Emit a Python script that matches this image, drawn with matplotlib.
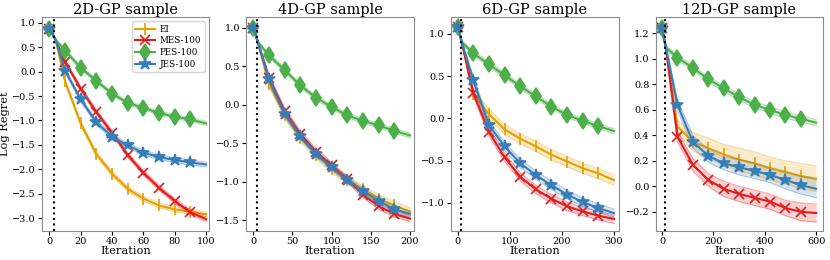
import numpy as np
import matplotlib.pyplot as plt

plt.rcParams['font.family'] = 'DejaVu Serif'

titles = ['2D-GP sample', '4D-GP sample', '6D-GP sample', '12D-GP sample']
methods = ['EI', 'MES-100', 'PES-100', 'JES-100']
init_iters = [3, 5, 7, 13]

# 2D
x_2d = [0, 4, 10, 20, 30, 40, 50, 60, 70, 80, 90, 100]
ei_2d = [0.88, 0.65, -0.20, -1.06, -1.69, -2.09, -2.40, -2.60, -2.74, -2.82, -2.87, -2.92]
mes_2d = [0.88, 0.65, 0.20, -0.35, -0.83, -1.25, -1.71, -2.07, -2.38, -2.65, -2.88, -3.02]
pes_2d = [0.88, 0.65, 0.43, 0.08, -0.19, -0.45, -0.64, -0.74, -0.85, -0.92, -0.98, -1.06]
jes_2d = [0.88, 0.65, 0.02, -0.57, -1.04, -1.33, -1.51, -1.66, -1.75, -1.81, -1.86, -1.90]
ei_2d_err = [0.02, 0.02, 0.04, 0.05, 0.05, 0.05, 0.05, 0.05, 0.05, 0.05, 0.05, 0.05]
mes_2d_err = [0.02, 0.02, 0.04, 0.05, 0.05, 0.05, 0.05, 0.05, 0.05, 0.05, 0.05, 0.05]
pes_2d_err = [0.02, 0.02, 0.04, 0.04, 0.04, 0.04, 0.04, 0.04, 0.04, 0.04, 0.04, 0.04]
jes_2d_err = [0.02, 0.02, 0.04, 0.05, 0.05, 0.05, 0.05, 0.05, 0.05, 0.05, 0.05, 0.05]

# 4D
x_4d = [0, 6, 20, 40, 60, 80, 100, 120, 140, 160, 180, 200]
ei_4d = [1.00, 0.81, 0.27, -0.13, -0.43, -0.65, -0.83, -0.98, -1.10, -1.22, -1.31, -1.39]
mes_4d = [1.00, 0.81, 0.35, -0.08, -0.38, -0.61, -0.79, -0.97, -1.17, -1.32, -1.42, -1.48]
pes_4d = [1.00, 0.81, 0.64, 0.45, 0.25, 0.09, -0.03, -0.14, -0.21, -0.27, -0.34, -0.40]
jes_4d = [1.00, 0.81, 0.33, -0.12, -0.41, -0.64, -0.81, -0.98, -1.12, -1.25, -1.36, -1.42]
ei_4d_err = [0.02, 0.02, 0.04, 0.05, 0.05, 0.05, 0.05, 0.05, 0.05, 0.05, 0.05, 0.05]
mes_4d_err = [0.02, 0.02, 0.04, 0.04, 0.04, 0.04, 0.04, 0.04, 0.04, 0.04, 0.04, 0.04]
pes_4d_err = [0.02, 0.02, 0.03, 0.03, 0.03, 0.03, 0.03, 0.03, 0.03, 0.03, 0.03, 0.03]
jes_4d_err = [0.02, 0.02, 0.04, 0.04, 0.04, 0.04, 0.04, 0.04, 0.04, 0.04, 0.04, 0.04]

# 6D
x_6d = [0, 8, 30, 60, 90, 120, 150, 180, 210, 240, 270, 300]
ei_6d = [1.08, 0.90, 0.29, 0.05, -0.13, -0.24, -0.33, -0.43, -0.51, -0.59, -0.65, -0.73]
mes_6d = [1.08, 0.90, 0.30, -0.16, -0.46, -0.69, -0.84, -0.95, -1.04, -1.10, -1.15, -1.19]
pes_6d = [1.08, 0.90, 0.77, 0.64, 0.51, 0.38, 0.26, 0.14, 0.04, -0.03, -0.09, -0.15]
jes_6d = [1.08, 0.90, 0.45, -0.08, -0.33, -0.53, -0.67, -0.79, -0.90, -0.99, -1.06, -1.12]
ei_6d_err = [0.02, 0.02, 0.05, 0.06, 0.06, 0.06, 0.06, 0.06, 0.06, 0.06, 0.06, 0.06]
mes_6d_err = [0.02, 0.02, 0.04, 0.05, 0.05, 0.05, 0.05, 0.05, 0.05, 0.05, 0.05, 0.05]
pes_6d_err = [0.02, 0.02, 0.03, 0.03, 0.03, 0.03, 0.03, 0.03, 0.03, 0.03, 0.03, 0.03]
jes_6d_err = [0.02, 0.02, 0.05, 0.05, 0.05, 0.05, 0.05, 0.05, 0.05, 0.05, 0.05, 0.05]

# 12D
x_12d = [0, 15, 60, 120, 180, 240, 300, 360, 420, 480, 540, 600]
ei_12d = [1.24, 1.09, 0.47, 0.35, 0.30, 0.25, 0.21, 0.18, 0.14, 0.11, 0.08, 0.06]
mes_12d = [1.24, 1.09, 0.39, 0.17, 0.05, -0.02, -0.06, -0.09, -0.12, -0.17, -0.20, -0.21]
pes_12d = [1.24, 1.09, 1.01, 0.93, 0.84, 0.77, 0.70, 0.64, 0.60, 0.56, 0.53, 0.50]
jes_12d = [1.24, 1.09, 0.64, 0.35, 0.24, 0.18, 0.15, 0.12, 0.09, 0.05, 0.01, -0.02]
ei_12d_err = [0.02, 0.02, 0.05, 0.07, 0.08, 0.08, 0.09, 0.09, 0.09, 0.09, 0.10, 0.10]
mes_12d_err = [0.02, 0.02, 0.04, 0.05, 0.05, 0.06, 0.06, 0.06, 0.06, 0.06, 0.07, 0.07]
pes_12d_err = [0.02, 0.02, 0.02, 0.02, 0.02, 0.025, 0.025, 0.025, 0.025, 0.025, 0.025, 0.025]
jes_12d_err = [0.02, 0.02, 0.04, 0.05, 0.05, 0.05, 0.06, 0.06, 0.06, 0.07, 0.07, 0.07]

panels = [
    (x_2d, [ei_2d, mes_2d, pes_2d, jes_2d], [ei_2d_err, mes_2d_err, pes_2d_err, jes_2d_err]),
    (x_4d, [ei_4d, mes_4d, pes_4d, jes_4d], [ei_4d_err, mes_4d_err, pes_4d_err, jes_4d_err]),
    (x_6d, [ei_6d, mes_6d, pes_6d, jes_6d], [ei_6d_err, mes_6d_err, pes_6d_err, jes_6d_err]),
    (x_12d, [ei_12d, mes_12d, pes_12d, jes_12d], [ei_12d_err, mes_12d_err, pes_12d_err, jes_12d_err]),
]

colors = ['#e69f00', '#e41a1c', '#4daf4a', '#377eb8']
markers = ['|', 'x', 'd', '*']
msizes = [9, 7.5, 8, 9]
xlims = [(-5, 102), (-9, 205), (-13, 309), (-25, 628)]
xsteps = [20, 50, 100, 200]
ylims = [(-3.26, 1.12), (-1.64, 1.14), (-1.33, 1.2), (-0.35, 1.33)]
yticks = [np.arange(-3.0, 1.01, 0.5), np.arange(-1.5, 1.01, 0.5),
          np.arange(-1.0, 1.01, 0.5), np.arange(-0.2, 1.21, 0.2)]

fig, axes = plt.subplots(1, 4, figsize=(8.3, 2.6), dpi=100)
plt.subplots_adjust(left=0.05, right=0.992, top=0.935, bottom=0.112, wspace=0.22)

for k, ax in enumerate(axes):
    x, means, errs = panels[k]
    x = np.array(x)
    mark_idx = [0] + list(range(2, len(x) - 1))
    for j in range(4):
        m = np.array(means[j])
        e = np.array(errs[j])
        c = colors[j]
        ax.fill_between(x, m - e, m + e, color=c, alpha=0.2, lw=0)
        ax.plot(x, m - e, color=c, alpha=0.35, lw=0.8)
        ax.plot(x, m + e, color=c, alpha=0.35, lw=0.8)
        ax.plot(x, m, color=c, lw=1.5, marker=markers[j], markersize=msizes[j],
                markevery=mark_idx, markeredgewidth=1.2, label=methods[j])
    ax.axvline(init_iters[k], color='black', ls=':', lw=1.5)
    ax.set_xlim(xlims[k])
    ax.set_ylim(ylims[k])
    ax.set_xticks(np.arange(0, x[-1] + 1, xsteps[k]))
    ax.set_yticks(yticks[k])
    ax.set_title(titles[k], fontsize=10.5, pad=2)
    ax.set_xlabel('Iteration', fontsize=8.2, labelpad=0)
    ax.tick_params(labelsize=7, length=3, pad=1.5)
    for s in ax.spines.values():
        s.set_edgecolor('0.55')

axes[0].set_ylabel('Log Regret', fontsize=8.2, labelpad=1)
axes[0].legend(loc='upper right', fontsize=6.3, handlelength=2.2, borderpad=0.4,
               labelspacing=0.3, handletextpad=0.6)

fig.savefig('out.png', dpi=100)
